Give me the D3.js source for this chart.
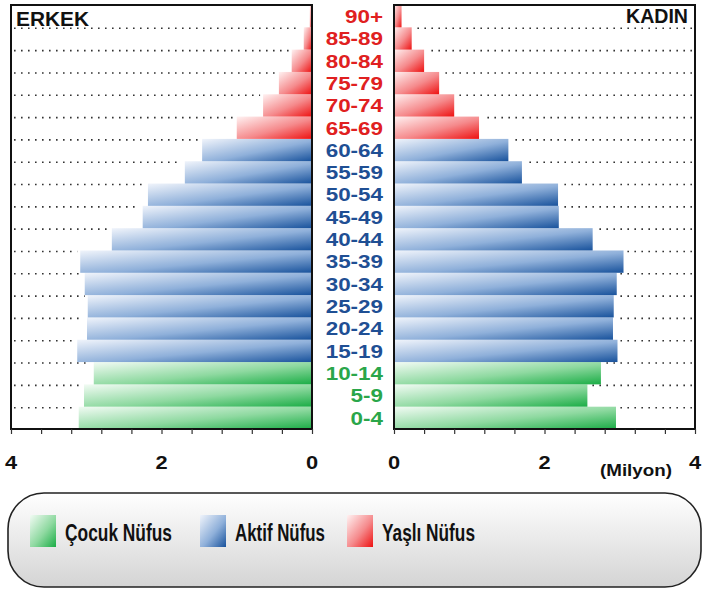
<!DOCTYPE html>
<html><head><meta charset="utf-8">
<script src="https://cdn.jsdelivr.net/npm/d3@7"></script>
<style>body{margin:0;background:#fff}svg{display:block}</style>
</head><body><svg id="c" width="705" height="590"></svg>
<script>
const ageGroups = ["0-4","5-9","10-14","15-19","20-24","25-29","30-34","35-39","40-44","45-49","50-54","55-59","60-64","65-69","70-74","75-79","80-84","85-89","90+"];
const groupType = ["c","c","c","a","a","a","a","a","a","a","a","a","a","y","y","y","y","y","y"];
const maleValues = [3.10,3.03,2.90,3.12,2.99,2.98,3.02,3.08,2.66,2.25,2.18,1.69,1.46,1.00,0.65,0.44,0.27,0.11,0.03];
const femaleValues = [2.95,2.57,2.75,2.97,2.91,2.92,2.96,3.05,2.64,2.19,2.18,1.70,1.52,1.13,0.80,0.60,0.40,0.235,0.10];
const tickValues = [0,2,4];
const legendLabels = ["Çocuk Nüfus","Aktif Nüfus","Yaşlı Nüfus"];
const legendTypes = ["c","a","y"];

const colors = {
  c:{light:"#f2fbf4", mid:"#8ed9a0", dark:"#1bad46", text:"#2aa64a"},
  a:{light:"#f0f4fb", mid:"#8fb0da", dark:"#18529c", text:"#1f4f94"},
  y:{light:"#fff2f2", mid:"#f58a8c", dark:"#ee1111", text:"#e02020"}
};

const svg = d3.select("#c");
const defs = svg.append("defs");
Object.keys(colors).forEach(k=>{
  const g = defs.append("linearGradient").attr("id","g_"+k)
    .attr("x1",0).attr("y1",0).attr("x2",1).attr("y2",1);
  g.append("stop").attr("offset","0%").attr("stop-color",colors[k].light);
  g.append("stop").attr("offset","55%").attr("stop-color",colors[k].mid);
  g.append("stop").attr("offset","100%").attr("stop-color",colors[k].dark);
});
const lg = defs.append("linearGradient").attr("id","legbg").attr("x1",0).attr("y1",0).attr("x2",0).attr("y2",1);
lg.append("stop").attr("offset","0%").attr("stop-color","#ffffff");
lg.append("stop").attr("offset","100%").attr("stop-color","#d4d4d4");

const yTop = 5, yBottom = 429;
const y = d3.scaleBand().domain(ageGroups.slice().reverse()).range([yTop,yBottom]).padding(0);
const xL = d3.scaleLinear().domain([0,4]).range([312,11]);
const xR = d3.scaleLinear().domain([0,4]).range([394,695]);

const font = "'Liberation Sans', Arial, sans-serif";

function panel(x, values, side){
  const g = svg.append("g");
  g.selectAll("line.dot").data(ageGroups.map((a,i)=>({a,v:values[i]})).filter(d=>d.a!=="90+"))
    .enter().append("line")
    .attr("x1", side==="L"? x(4)+3 : x(4)-3)
    .attr("x2", d=> side==="L"? x(d.v)-3 : x(d.v)+3)
    .attr("y1", d=>y(d.a)+1).attr("y2", d=>y(d.a)+1)
    .attr("stroke","#333").attr("stroke-width",1.6).attr("stroke-dasharray","1.6,5.4");
  g.selectAll("rect.bar").data(ageGroups.map((a,i)=>({a,v:values[i],t:groupType[i]})))
    .enter().append("rect")
    .attr("x", d=> side==="L"? x(d.v) : x(0))
    .attr("width", d=> Math.abs(x(d.v)-x(0)))
    .attr("y", d=>y(d.a)).attr("height", y.bandwidth())
    .attr("fill", d=>"url(#g_"+d.t+")");
  g.append("rect").attr("x", Math.min(x(0),x(4))).attr("y", yTop)
    .attr("width", Math.abs(x(4)-x(0))).attr("height", yBottom-yTop)
    .attr("fill","none").attr("stroke","#111").attr("stroke-width",2);
  const ax = d3.axisBottom(x).tickValues(d3.range(0,4.01,0.4)).tickSize(5).tickFormat("");
  const axg = g.append("g").attr("transform",`translate(0,${yBottom})`).call(ax);
  axg.select(".domain").remove();
  axg.selectAll(".tick line").attr("stroke","#333").attr("stroke-width",1.2);
  g.selectAll("text.tl").data(tickValues).enter().append("text")
    .attr("transform", d=>`translate(${x(d)},469) scale(1.18,1)`)
    .attr("text-anchor","middle")
    .attr("font-family",font).attr("font-weight","bold").attr("font-size",18.5).attr("fill","#111")
    .text(d=>d);
}
panel(xL, maleValues, "L");
panel(xR, femaleValues, "R");

svg.append("text").attr("x",16).attr("y",26).attr("font-family",font).attr("font-weight","bold")
  .attr("font-size",19.5).attr("fill","#111").attr("textLength",73).attr("lengthAdjust","spacingAndGlyphs").text("ERKEK");
svg.append("text").attr("x",626).attr("y",23).attr("font-family",font).attr("font-weight","bold")
  .attr("font-size",19.5).attr("fill","#111").attr("textLength",62).attr("lengthAdjust","spacingAndGlyphs").text("KADIN");

svg.selectAll("text.age").data(ageGroups.map((a,i)=>({a,t:groupType[i]}))).enter().append("text")
  .attr("transform",d=>`translate(383,${y(d.a)+y.bandwidth()/2+6.8}) scale(1.18,1)`)
  .attr("text-anchor","end")
  .attr("font-family",font).attr("font-weight","bold").attr("font-size",19)
  .attr("fill",d=>colors[d.t].text).text(d=>d.a);

svg.append("text").attr("x",600).attr("y",476).attr("font-family",font)
  .attr("font-weight","bold").attr("font-size",16.5).attr("fill","#111")
  .attr("textLength",72).attr("lengthAdjust","spacingAndGlyphs").text("(Milyon)");

svg.append("rect").attr("x",8).attr("y",493).attr("width",693).attr("height",94).attr("rx",36).attr("ry",36)
  .attr("fill","url(#legbg)").attr("stroke","#222").attr("stroke-width",1.6);
const legX = [30,200,347];
const legTW = [107,90,93];
legendTypes.forEach((t,i)=>{
  svg.append("rect").attr("x",legX[i]).attr("y",515).attr("width",26).attr("height",32)
    .attr("fill","url(#g_"+t+")");
  svg.append("text").attr("x",legX[i]+35).attr("y",541).attr("font-family",font)
    .attr("font-weight","bold").attr("font-size",23).attr("fill","#111")
    .attr("textLength",legTW[i]).attr("lengthAdjust","spacingAndGlyphs").text(legendLabels[i]);
});
</script></body></html>
